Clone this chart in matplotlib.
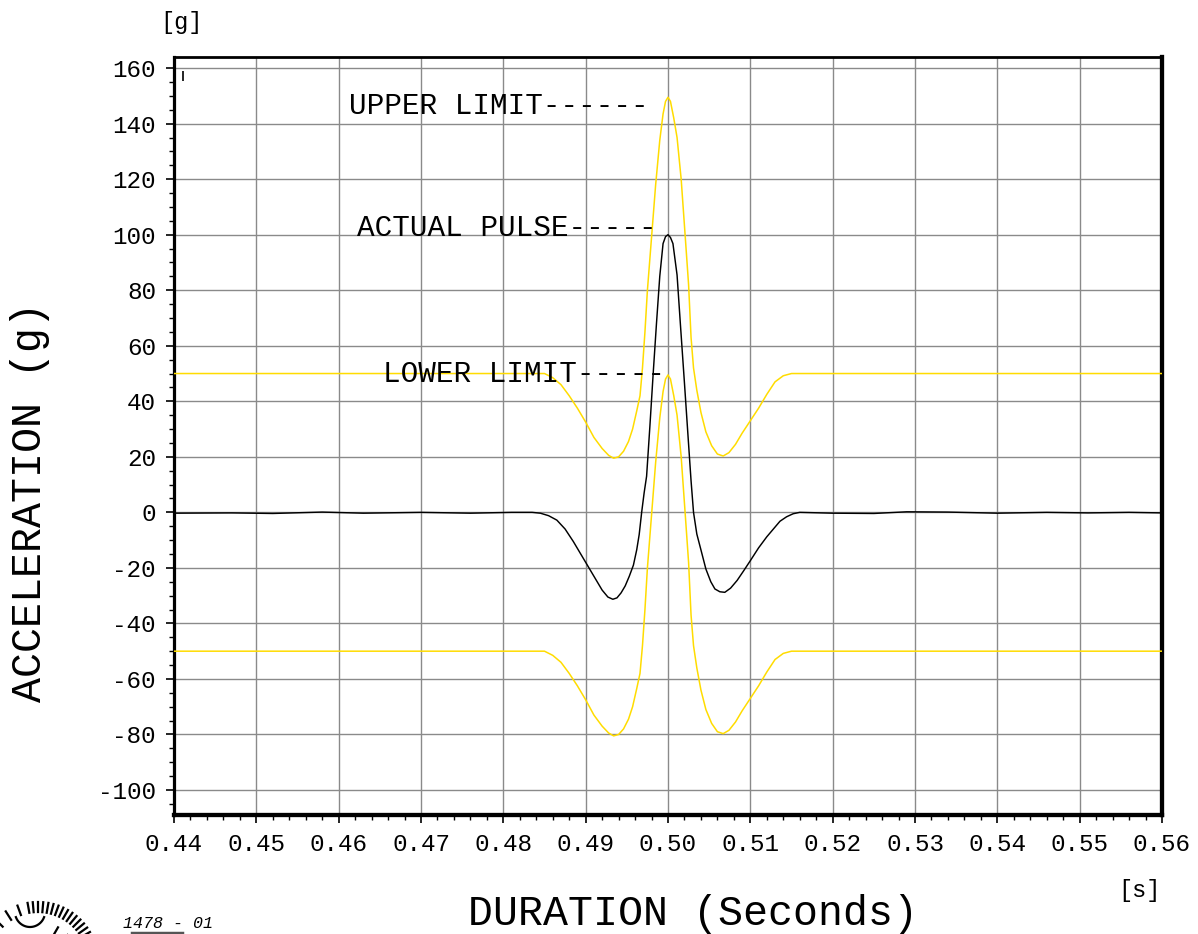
import numpy as np
import matplotlib
matplotlib.use("Agg")
import matplotlib.pyplot as plt
from matplotlib.ticker import MultipleLocator, FixedLocator, FuncFormatter
from matplotlib.lines import Line2D

plt.rcParams['axes.unicode_minus'] = False
FONT = ['Liberation Mono', 'DejaVu Sans Mono']

# ---- measured shock pulse (time in s, acceleration in g) ----
pulse_t = [0.4400, 0.4470, 0.4520, 0.4580, 0.4630, 0.4700, 0.4760, 0.4810, 0.4835,
           0.4845, 0.4855, 0.4865, 0.4875, 0.4885, 0.4895, 0.4905, 0.4913, 0.4920,
           0.4927, 0.4933, 0.4938, 0.4943, 0.4948, 0.4953, 0.4958, 0.4962, 0.4965,
           0.4968, 0.4971, 0.4974, 0.4978, 0.4982, 0.4986, 0.4990, 0.4994, 0.4997,
           0.5000, 0.5003, 0.5006, 0.5011, 0.5015, 0.5020, 0.5025, 0.5028, 0.5031,
           0.5035, 0.5040, 0.5046, 0.5052, 0.5057, 0.5063, 0.5069, 0.5076, 0.5084,
           0.5092, 0.5100, 0.5110, 0.5120, 0.5128, 0.5136, 0.5144, 0.5152, 0.5160,
           0.5200, 0.5250, 0.5290, 0.5340, 0.5400, 0.5460, 0.5510, 0.5560, 0.5600]
pulse_g = [-0.3, -0.2, -0.4, 0.1, -0.3, 0.0, -0.3, 0.0, 0.0,
           -0.3, -1.2, -2.8, -6.0, -10.5, -15.5, -20.5, -24.5, -28.0,
           -30.5, -31.3, -30.8, -29.0, -26.5, -23.0, -19.0, -13.5, -8.0,
           0.0, 7.0, 13.0, 31.0, 50.0, 68.0, 85.0, 96.8, 99.3,
           100.0, 99.0, 96.8, 85.5, 68.0, 46.5, 24.5, 11.4, 0.0,
           -7.8, -13.5, -20.4, -25.0, -27.6, -28.6, -28.8, -27.3, -24.5,
           -21.0, -17.4, -12.8, -8.8, -6.0, -3.2, -1.6, -0.5, 0.0,
           -0.3, -0.4, 0.2, 0.1, -0.3, 0.0, -0.2, 0.0, -0.2]

# ---- tolerance band ----
limit_t = [0.4400, 0.4850, 0.4860, 0.4870, 0.4880, 0.4890, 0.4900, 0.4910, 0.4920,
           0.4928, 0.4934, 0.4940, 0.4946, 0.4952, 0.4957, 0.4962, 0.4966, 0.4969,
           0.4972, 0.4975, 0.4980, 0.4985, 0.4990, 0.4994, 0.4997, 0.5000, 0.5003,
           0.5007, 0.5011, 0.5016, 0.5021, 0.5025, 0.5028, 0.5031, 0.5035, 0.5040,
           0.5046, 0.5053, 0.5060, 0.5067, 0.5074, 0.5082, 0.5090, 0.5100, 0.5110,
           0.5120, 0.5130, 0.5140, 0.5150, 0.5600]
upper_g = [50.0, 50.0, 48.5, 46.0, 42.0, 37.5, 32.5, 27.0, 23.0,
           20.5, 19.5, 20.0, 22.0, 25.5, 30.0, 36.5, 42.0, 52.0,
           65.0, 80.0, 99.0, 118.0, 134.0, 143.5, 148.0, 149.5, 148.0,
           142.0, 135.0, 120.0, 99.0, 82.0, 63.0, 52.0, 44.0, 36.0,
           29.0, 24.0, 21.0, 20.3, 21.5, 24.5, 28.5, 33.0, 37.5,
           42.5, 47.0, 49.2, 50.0, 50.0]
lower_g = [-50.0, -50.0, -51.5, -54.0, -58.0, -62.5, -67.5, -73.0, -77.0,
           -79.5, -80.5, -80.0, -78.0, -74.5, -70.0, -63.5, -58.0, -48.0,
           -35.0, -20.0, -1.0, 18.0, 34.0, 43.5, 48.0, 49.5, 48.0,
           42.0, 35.0, 20.0, -1.0, -18.0, -37.0, -48.0, -56.0, -64.0,
           -71.0, -76.0, -79.0, -79.7, -78.5, -75.5, -71.5, -67.0, -62.5,
           -57.5, -53.0, -50.8, -50.0, -50.0]

x_ticks = [0.44, 0.45, 0.46, 0.47, 0.48, 0.49, 0.50, 0.51, 0.52, 0.53, 0.54, 0.55, 0.56]
y_ticks = [-100, -80, -60, -40, -20, 0, 20, 40, 60, 80, 100, 120, 140, 160]

labels = [("UPPER LIMIT------", 0.4613, 146.3),
          ("ACTUAL PULSE-----", 0.4622, 102.3),
          ("LOWER LIMIT-----", 0.4654, 49.7)]

W, H = 1198, 934
fig = plt.figure(figsize=(W / 100, H / 100), dpi=100)
ax = fig.add_axes([174 / W, 1 - 815 / H, (1162 - 174) / W, (815 - 57) / H])

YELLOW = '#ffdc00'
ax.plot(limit_t, upper_g, color=YELLOW, lw=1.1, zorder=3)
ax.plot(limit_t, lower_g, color=YELLOW, lw=1.1, zorder=3)
ax.plot(pulse_t, pulse_g, color='black', lw=1.05, zorder=4)

ax.set_xlim(0.44, 0.56)
ax.set_ylim(-109, 164)

ax.xaxis.set_major_locator(FixedLocator(x_ticks))
ax.xaxis.set_minor_locator(MultipleLocator(0.002))
ax.yaxis.set_major_locator(FixedLocator(y_ticks))
ax.yaxis.set_minor_locator(MultipleLocator(5))
ax.xaxis.set_major_formatter(FuncFormatter(lambda v, p: f"{v:.2f}"))
ax.yaxis.set_major_formatter(FuncFormatter(lambda v, p: f"{int(round(v))}"))

ax.grid(True, which='major', color='#8a8a8a', lw=1.0, zorder=1)
ax.tick_params(which='major', direction='out', length=6, width=1.2, color='black',
               labelsize=17.5, pad=7)
ax.tick_params(which='minor', direction='out', length=3.5, width=1.0, color='black')
for lab in ax.get_xticklabels() + ax.get_yticklabels():
    lab.set_fontfamily(FONT)

ax.spines['left'].set_linewidth(2.3)
ax.spines['top'].set_linewidth(2.0)
ax.spines['right'].set_linewidth(3.1)
ax.spines['bottom'].set_linewidth(3.1)

for txt, tx, ty in labels:
    ax.text(tx, ty, txt, family=FONT, fontsize=21.2, ha='left', va='center', zorder=5)

# small start marker near the top-left corner
ax.plot([0.4411], [157.2], marker='|', color='black', ms=7, mew=1.2, zorder=5)

# axis titles and units
fig.text(30 / W, 1 - 502 / H, "ACCELERATION (g)", family=FONT, fontsize=30,
         rotation=90, ha='center', va='center')
fig.text(693 / W, 1 - 914 / H, "DURATION (Seconds)", family=FONT, fontsize=30,
         ha='center', va='center')
fig.text(181 / W, 1 - 22 / H, "[g]", family=FONT, fontsize=17, ha='center', va='center')
fig.text(1139 / W, 1 - 890 / H, "[s]", family=FONT, fontsize=17, ha='center', va='center')

# stamp in the lower-left corner
ov = fig.add_axes([0, 0, 1, 1], facecolor='none')
ov.set_xlim(0, W)
ov.set_ylim(H, 0)
ov.axis('off')
cx, cy = 38, 962
for ang in np.linspace(100, 20, 17):
    a = np.deg2rad(ang)
    r0, r1 = 50, 60
    ov.add_line(Line2D([cx + r0 * np.cos(a), cx + r1 * np.cos(a)],
                       [cy - r0 * np.sin(a), cy - r1 * np.sin(a)],
                       color='black', lw=1.6))
for ang in np.linspace(160, 110, 5):
    a = np.deg2rad(ang)
    ov.add_line(Line2D([cx + 50 * np.cos(a), cx + 60 * np.cos(a)],
                       [cy - 50 * np.sin(a), cy - 60 * np.sin(a)],
                       color='black', lw=1.6))
th = np.linspace(np.deg2rad(200), np.deg2rad(340), 30)
ov.plot(30 + 15 * np.cos(th), 912 - 15 * np.sin(th), color='black', lw=1.6)
for ang in np.linspace(60, 25, 3):
    a = np.deg2rad(ang)
    ov.add_line(Line2D([cx + 30 * np.cos(a), cx + 40 * np.cos(a)],
                       [cy - 30 * np.sin(a), cy - 40 * np.sin(a)],
                       color='black', lw=1.6))
ov.text(123, 923, "1478 - 01", family=FONT, style='italic', fontsize=12,
        ha='left', va='center')
ov.add_line(Line2D([132, 182], [933, 933], color='#555555', lw=2.5))

fig.savefig("out.png", dpi=100)
